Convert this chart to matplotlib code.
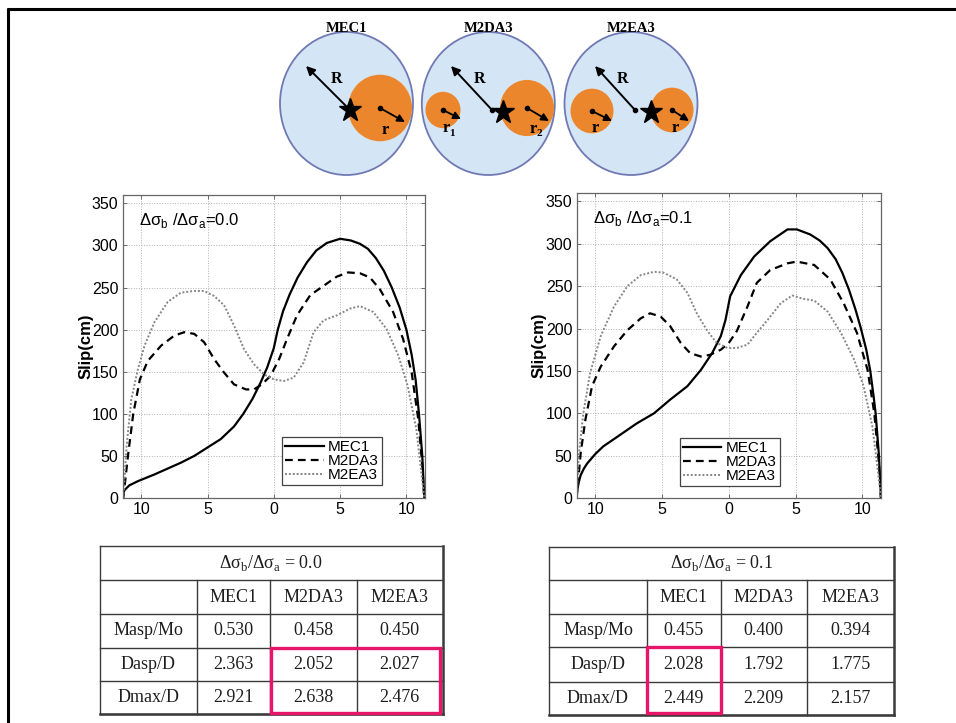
import matplotlib
matplotlib.use('Agg')
import matplotlib.pyplot as plt
from matplotlib.patches import Ellipse, Rectangle

plt.rcParams['font.family'] = ['Liberation Sans', 'DejaVu Sans']

# slip profiles along the fault, stress drop ratio 0.0
dist_mec1_a = [-11.35, -10.9, -10.25, -9.0, -8.0, -7.0, -6.0, -5.0, -4.0, -3.0, -2.3, -1.6, -1.0, -0.5, 0.0,
               0.3, 0.7, 1.2, 1.8, 2.5, 3.2, 4.0, 5.0, 5.8, 6.5, 7.1, 7.7, 8.3, 8.9, 9.5, 10.0, 10.4, 10.7,
               10.95, 11.2, 11.35]
slip_mec1_a = [8, 15, 20, 28, 35, 42, 50, 60, 70, 85, 100, 118, 137, 155, 178,
               200, 222, 242, 262, 280, 294, 303, 308, 306, 302, 296, 285, 270, 250, 226, 200, 170, 140,
               100, 50, 0]
dist_m2da3_a = [-11.35, -11.0, -10.6, -10.1, -9.5, -8.5, -7.5, -6.75, -6.0, -5.25, -4.5, -3.75, -3.0, -2.1,
                -1.5, -0.9, -0.25, 0.4, 1.0, 1.75, 2.75, 3.75, 4.75, 5.6, 6.5, 7.25, 8.0, 9.0, 9.75, 10.4,
                10.9, 11.2, 11.35]
slip_m2da3_a = [0, 50, 100, 141, 163, 181, 193, 197, 195, 185, 165, 149, 135, 129,
                129, 135, 145, 165, 189, 217, 241, 252, 263, 268, 267, 262, 248, 221, 189, 149,
                93, 38, 0]
dist_m2ea3_a = [-11.35, -11.1, -10.75, -10.25, -9.75, -9.0, -8.0, -7.0, -6.0, -5.25, -4.5, -3.75, -3.0,
                -2.25, -1.5, -0.75, 0.0, 0.75, 1.5, 2.25, 3.0, 3.75, 4.75, 5.75, 6.5, 7.5, 8.5, 9.4, 10.1,
                10.75, 11.1, 11.35]
slip_m2ea3_a = [0, 62, 117, 153, 181, 209, 233, 244, 246, 246, 240, 229, 205,
                177, 159, 147, 141, 139, 143, 161, 197, 211, 217, 225, 228, 221, 201, 169, 133,
                82, 34, 0]

# stress drop ratio 0.1
dist_mec1_b = [-11.4, -11.25, -11.1, -10.85, -10.6, -10.0, -9.4, -8.1, -6.9, -5.6, -4.4, -3.1, -2.1, -1.25,
               -0.6, -0.25, 0.1, 0.9, 1.9, 3.1, 4.4, 5.1, 6.1, 6.8, 7.4, 8.0, 8.5, 9.0, 9.5, 9.9, 10.3,
               10.6, 10.85, 11.0, 11.25, 11.4]
slip_mec1_b = [5, 18, 27, 35, 41, 52, 61, 75, 88, 100, 116, 132, 151, 171,
               191, 210, 238, 263, 285, 303, 317, 317, 311, 304, 295, 282, 266, 246, 222, 200, 175,
               150, 120, 100, 50, 0]
dist_m2da3_b = [-11.4, -11.1, -10.75, -10.25, -9.6, -8.6, -7.6, -6.6, -5.9, -5.1, -4.4, -3.6, -2.9, -2.1,
                -1.4, -0.6, 0.0, 0.6, 1.4, 2.1, 3.1, 4.4, 5.1, 6.4, 7.6, 8.6, 9.6, 10.4, 10.9, 11.25, 11.4]
slip_m2da3_b = [0, 53, 92, 132, 155, 179, 198, 212, 218, 214, 203, 183, 171, 167,
                169, 175, 183, 197, 226, 254, 269, 277, 279, 275, 258, 230, 195, 151, 100, 41, 0]
dist_m2ea3_b = [-11.4, -11.25, -10.9, -10.4, -9.6, -8.6, -7.6, -6.6, -5.6, -4.9, -3.9, -3.1, -2.4, -1.6,
                -0.9, -0.1, 0.6, 1.4, 2.1, 2.9, 3.9, 4.75, 5.6, 6.4, 7.4, 8.4, 9.4, 10.1, 10.75, 11.1, 11.4]
slip_m2ea3_b = [0, 49, 100, 147, 191, 226, 250, 263, 267, 266, 258, 242, 218, 197,
                183, 177, 177, 181, 195, 210, 230, 239, 235, 233, 220, 195, 163, 132, 85, 41, 0]

model_names = ['MEC1', 'M2DA3', 'M2EA3']
x_ticks = [-10, -5, 0, 5, 10]
x_tick_labels = ['10', '5', '0', '5', '10']
y_ticks = [0, 50, 100, 150, 200, 250, 300, 350]

row_names = ['Masp/Mo', 'Dasp/D', 'Dmax/D']
table_a = [['0.530', '0.458', '0.450'],
           ['2.363', '2.052', '2.027'],
           ['2.921', '2.638', '2.476']]
table_b = [['0.455', '0.400', '0.394'],
           ['2.028', '1.792', '1.775'],
           ['2.449', '2.209', '2.157']]

fig = plt.figure(figsize=(9.56, 7.23), dpi=100)

# pixel-space overlay for frame, sketches and tables
bg = fig.add_axes([0, 0, 1, 1])
bg.set_xlim(0, 956)
bg.set_ylim(723, 0)
bg.axis('off')

bg.plot([7.5, 956], [8.5, 8.5], color='k', lw=2.2, solid_capstyle='butt')
bg.plot([8.5, 8.5], [7.5, 723], color='k', lw=2.2, solid_capstyle='butt')

# --- fault sketches ---
fill_blue = '#d4e6f6'
edge_blue = '#7079b4'
orange = '#ec862c'
serif = 'Liberation Serif'


def arrow(x0, y0, x1, y1, lw=1.4, ms=13):
    bg.annotate('', xy=(x1, y1), xytext=(x0, y0),
                arrowprops=dict(arrowstyle='-|>', color='k', lw=lw, mutation_scale=ms,
                                shrinkA=0, shrinkB=0))


def asperity(cx, cy, r, tip, label, sub=None):
    bg.add_patch(Ellipse((cx, cy), 2 * r, 2.08 * r, facecolor=orange, edgecolor='none'))
    bg.plot(cx, cy, 'o', color='k', ms=3)
    arrow(cx, cy, tip[0], tip[1], lw=1.3, ms=11)
    bg.text(label[0], label[1], 'r', fontfamily=serif, fontweight='bold', fontsize=12,
            ha='center', va='center')
    if sub:
        bg.text(label[0] + 6, label[1] + 5, sub, fontfamily=serif, fontweight='bold', fontsize=8,
                ha='center', va='center')


centers = [346.5, 488.3, 631.0]
for name, cx in zip(model_names, centers):
    bg.add_patch(Ellipse((cx, 103.5), 133, 143, facecolor=fill_blue, edgecolor=edge_blue, lw=1.3))
    bg.text(cx, 28, name, fontfamily=serif, fontweight='bold', fontsize=10.5, ha='center', va='center')

# MEC1
asperity(380, 108, 32, (405, 122), (385, 130))
arrow(350, 110, 306, 66)
bg.text(336, 79, 'R', fontfamily=serif, fontweight='bold', fontsize=11.5, ha='center', va='center')
bg.plot(350, 110, '*', color='k', ms=17)

# M2DA3
asperity(443, 110, 17.5, (461, 119), (446, 128), '1')
asperity(527, 108, 27, (549, 121), (533, 129), '2')
bg.plot(492, 110, 'o', color='k', ms=3)
arrow(492, 110, 451, 66)
bg.text(479, 79, 'R', fontfamily=serif, fontweight='bold', fontsize=11.5, ha='center', va='center')
bg.plot(503, 112, '*', color='k', ms=17)

# M2EA3
asperity(592, 111, 21.5, (612, 121), (595, 128))
asperity(672, 110, 21.5, (689, 121), (675, 128))
bg.plot(635, 110, 'o', color='k', ms=3)
arrow(635, 110, 595, 66)
bg.text(622, 79, 'R', fontfamily=serif, fontweight='bold', fontsize=11.5, ha='center', va='center')
bg.plot(651, 112, '*', color='k', ms=17)


# --- slip profiles ---
def slip_panel(rect, curves, ratio, leg_anchor, label_x):
    ax = fig.add_axes(rect)
    (d1, s1), (d2, s2), (d3, s3) = curves
    ax.plot(d1, s1, color='k', lw=1.6, label='MEC1')
    ax.plot(d2, s2, color='k', lw=1.6, ls=(0, (3.5, 2.3)), label='M2DA3')
    ax.plot(d3, s3, color='#858585', lw=1.4, ls=(0, (1, 1)), label='M2EA3')
    ax.set_xlim(-11.4, 11.4)
    ax.set_ylim(0, 360)
    ax.set_xticks(x_ticks, labels=x_tick_labels)
    ax.set_yticks(y_ticks)
    ax.grid(True, color='#b0b0b0', ls=':', lw=0.7)
    ax.tick_params(direction='in', top=True, right=True, length=3, width=0.6,
                   labelsize=11.5, pad=3, color='#555555')
    for sp in ax.spines.values():
        sp.set_color('#666666')
        sp.set_linewidth(0.9)
    ax.set_ylabel('Slip(cm)', fontsize=12, fontweight='bold')
    ax.yaxis.set_label_coords(label_x, 0.5)
    ax.text(0.054, 0.90, r'Δσ$_\mathregular{b}$ /Δσ$_\mathregular{a}$=' + ratio,
            transform=ax.transAxes, fontsize=12, va='baseline')
    leg = ax.legend(loc='lower right', bbox_to_anchor=leg_anchor, borderaxespad=0, fontsize=11,
                    handlelength=2.5, handletextpad=0.3, labelspacing=0.0, borderpad=0.2,
                    fancybox=False, framealpha=1)
    leg.get_frame().set_edgecolor('#444444')
    leg.get_frame().set_linewidth(0.9)
    return ax


slip_panel([0.1283, 0.3112, 0.3162, 0.4191],
           [(dist_mec1_a, slip_mec1_a), (dist_m2da3_a, slip_m2da3_a), (dist_m2ea3_a, slip_m2ea3_a)],
           '0.0', (0.858, 0.043), -0.095)
slip_panel([0.6032, 0.3112, 0.3183, 0.4219],
           [(dist_mec1_b, slip_mec1_b), (dist_m2da3_b, slip_m2da3_b), (dist_m2ea3_b, slip_m2ea3_b)],
           '0.1', (0.668, 0.039), -0.10)


# --- summary tables ---
def summary_table(cols, rows, ratio, values, box):
    line = '#3a3a3a'
    left, right = cols[0], cols[-1]
    top, bottom = rows[0], rows[-1]
    for y in rows:
        bg.plot([left, right], [y, y], color=line, lw=1.0)
    for x in cols[1:-1]:
        bg.plot([x, x], [rows[1], bottom], color=line, lw=1.0)
    bg.plot([left, left], [top, bottom], color=line, lw=1.0)
    bg.plot([right, right], [top, bottom], color=line, lw=1.8)
    bg.plot([left, right], [bottom, bottom], color=line, lw=1.8)
    tc = '#1e1e1e'
    bg.text((left + right) / 2, (rows[0] + rows[1]) / 2,
            r'Δσ$_\mathregular{b}$/Δσ$_\mathregular{a}$ = ' + ratio,
            fontfamily=serif, fontsize=13, ha='center', va='center', color=tc)
    for j, name in enumerate(model_names):
        bg.text((cols[j + 1] + cols[j + 2]) / 2, (rows[1] + rows[2]) / 2, name,
                fontfamily=serif, fontsize=13, ha='center', va='center', color=tc)
    for i, rname in enumerate(row_names):
        yc = (rows[i + 2] + rows[i + 3]) / 2
        bg.text((cols[0] + cols[1]) / 2, yc, rname, fontfamily=serif, fontsize=13,
                ha='center', va='center', color=tc)
        for j, val in enumerate(values[i]):
            bg.text((cols[j + 1] + cols[j + 2]) / 2, yc, val, fontfamily=serif, fontsize=13,
                    ha='center', va='center', color=tc)
    x0, y0, x1, y1 = box
    bg.add_patch(Rectangle((x0, y0), x1 - x0, y1 - y0, facecolor='none',
                           edgecolor='#e8166b', lw=2.4, zorder=5))


summary_table([100, 196.7, 270, 356.7, 442.7], [546, 580, 614, 647.5, 681, 714],
              '0.0', table_a, (271, 647.5, 440, 712.5))
summary_table([549.3, 646.7, 720.7, 806.7, 894], [546.7, 580, 614, 647, 681.7, 715],
              '0.1', table_b, (646.7, 647, 721, 713))

fig.savefig('out.png', dpi=100)
